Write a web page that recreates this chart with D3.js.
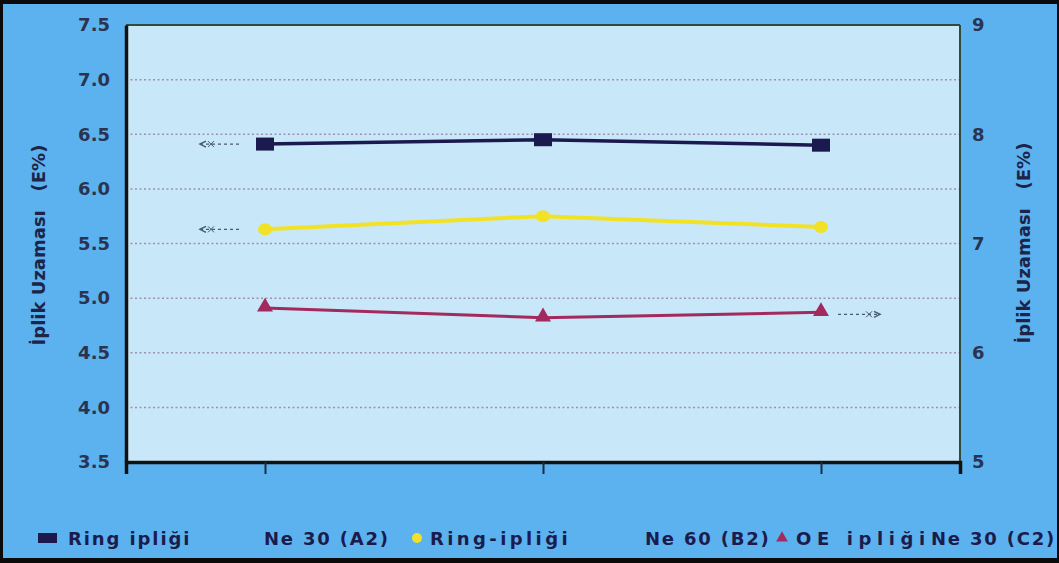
<!DOCTYPE html>
<html>
<head>
<meta charset="utf-8">
<script src="https://cdn.jsdelivr.net/npm/d3@7"></script>
<style>
  html, body { margin: 0; padding: 0; background: #000; }
  svg { display: block; }
  text { font-family: "DejaVu Sans", "Liberation Sans", Arial, sans-serif; font-weight: bold; }
</style>
</head>
<body>
<svg id="chart" width="1059" height="563"></svg>
<script>
// Measurement points along the x axis (unlabelled)
const categories = ["1", "2", "3"];

// Elongation values, E%
const ringNe30 = [6.41, 6.45, 6.40];   // left axis
const ringNe60 = [5.63, 5.75, 5.65];   // left axis
const oeNe30   = [6.41, 6.32, 6.37];   // right axis

// Axis tick labels
const leftTicks  = [3.5, 4.0, 4.5, 5.0, 5.5, 6.0, 6.5, 7.0, 7.5];
const rightTicks = [5, 6, 7, 8, 9];
const gridValues = [4.0, 4.5, 5.0, 5.5, 6.0, 6.5, 7.0];

const FONT = "'DejaVu Sans', 'Liberation Sans', Arial, sans-serif";
const svg = d3.select("#chart");
const W = 1059, H = 563;

// frame and page background
svg.append("rect").attr("x", 0).attr("y", 0).attr("width", W).attr("height", H).attr("fill", "#0a0a0a");
svg.append("rect").attr("x", 3).attr("y", 4).attr("width", W - 5).attr("height", H - 9).attr("fill", "#5cb2ef");

const plot = { left: 126, right: 960, top: 25, bottom: 462 };

const x = d3.scalePoint().domain(categories).range([plot.left, plot.right]).padding(0.5);
const yL = d3.scaleLinear().domain([3.5, 7.5]).range([plot.bottom, plot.top]);
const yR = d3.scaleLinear().domain([5, 9]).range([plot.bottom, plot.top]);

// plot area
svg.append("rect")
  .attr("x", plot.left).attr("y", plot.top)
  .attr("width", plot.right - plot.left).attr("height", plot.bottom - plot.top)
  .attr("fill", "#c8e7f8");

// dotted grid
svg.append("g").selectAll("line").data(gridValues).join("line")
  .attr("x1", plot.left).attr("x2", plot.right)
  .attr("y1", d => yL(d)).attr("y2", d => yL(d))
  .attr("stroke", "#a08fb2").attr("stroke-width", 1.5)
  .attr("stroke-dasharray", "2,2.5");

// plot border: thin top/right, heavy left/bottom
svg.append("line").attr("x1", plot.left).attr("x2", plot.right).attr("y1", plot.top).attr("y2", plot.top)
  .attr("stroke", "#2f4a3e").attr("stroke-width", 2);
svg.append("line").attr("x1", plot.right).attr("x2", plot.right).attr("y1", plot.top).attr("y2", plot.bottom)
  .attr("stroke", "#2f4a3e").attr("stroke-width", 2);

// left axis
const gL = svg.append("g").attr("transform", `translate(${plot.left},0)`)
  .call(d3.axisLeft(yL).tickValues(leftTicks).tickFormat(d3.format(".1f")).tickSize(0).tickPadding(16));
gL.select(".domain").attr("stroke", "#111").attr("stroke-width", 3.5);
gL.selectAll("text").attr("font-size", 18).attr("fill", "#2a3450")
  .attr("font-family", FONT).attr("font-weight", "bold");

// right axis
const gR = svg.append("g").attr("transform", `translate(${plot.right},0)`)
  .call(d3.axisRight(yR).tickValues(rightTicks).tickFormat(d3.format("d")).tickSize(0).tickPadding(12));
gR.select(".domain").remove();
gR.selectAll("text").attr("font-size", 18).attr("fill", "#2a3450")
  .attr("font-family", FONT).attr("font-weight", "bold");

// bottom axis
const gB = svg.append("g").attr("transform", `translate(0,${plot.bottom})`)
  .call(d3.axisBottom(x).tickSize(12).tickFormat(""));
gB.select(".domain").attr("stroke", "#111").attr("stroke-width", 3.5);
gB.selectAll(".tick line").attr("stroke", "#1d2a44").attr("stroke-width", 2);

// axis titles
svg.append("text")
  .attr("transform", "translate(45,245) rotate(-90)")
  .attr("text-anchor", "middle").attr("font-size", 18).attr("fill", "#1c2448")
  .text("İplik Uzaması\u00a0\u00a0\u00a0(E%)");
svg.append("text")
  .attr("transform", "translate(1030,243) rotate(-90)")
  .attr("text-anchor", "middle").attr("font-size", 18).attr("fill", "#1c2448")
  .text("İplik Uzaması\u00a0\u00a0\u00a0(E%)");

// series
const series = [
  { values: ringNe30, y: yL, color: "#1b1a4e", width: 3.5, marker: "square" },
  { values: ringNe60, y: yL, color: "#f2e226", width: 4, marker: "circle" },
  { values: oeNe30,   y: yR, color: "#a22a5e", width: 3, marker: "triangle" }
];

const line = (s) => d3.line().x((d, i) => x(categories[i])).y(d => s.y(d));

series.forEach(s => {
  svg.append("path").datum(s.values)
    .attr("d", line(s))
    .attr("fill", "none").attr("stroke", s.color).attr("stroke-width", s.width);
  const g = svg.append("g");
  s.values.forEach((v, i) => {
    const cx = x(categories[i]), cy = s.y(v);
    if (s.marker === "square") {
      g.append("rect").attr("x", cx - 9).attr("y", cy - 6.5).attr("width", 18).attr("height", 13).attr("fill", s.color);
    } else if (s.marker === "circle") {
      g.append("ellipse").attr("cx", cx).attr("cy", cy).attr("rx", 7).attr("ry", 6).attr("fill", s.color);
    } else {
      g.append("path").attr("d", d3.symbol(d3.symbolTriangle, 110)()).attr("transform", `translate(${cx},${cy - 1})`).attr("fill", s.color);
    }
  });
});

// small dashed pointers showing which axis each series uses
function pointer(x0, x1, yv, dir) {
  const g = svg.append("g").attr("stroke", "#4a5a70").attr("fill", "none");
  g.append("line").attr("x1", x0).attr("x2", x1).attr("y1", yv).attr("y2", yv)
    .attr("stroke-width", 1.2).attr("stroke-dasharray", "3,3");
  const tip = dir < 0 ? Math.min(x0, x1) : Math.max(x0, x1);
  g.append("path").attr("d", `M${tip - dir * 6},${yv - 3}L${tip},${yv}L${tip - dir * 6},${yv + 3}`)
    .attr("stroke-width", 1.5);
  const m = tip - dir * 11;
  g.append("path").attr("d", `M${m - 3},${yv - 3}L${m + 3},${yv + 3}M${m - 3},${yv + 3}L${m + 3},${yv - 3}`)
    .attr("stroke-width", 1);
}
pointer(200, 240, yL(ringNe30[0]), -1);
pointer(200, 240, yL(ringNe60[0]), -1);
pointer(838, 880, yR(oeNe30[2]) + 2, 1);

// legend
const legY = 545;
const legColor = "#1b1b4c";
const legText = (xp, txt, ls) => svg.append("text").attr("x", xp).attr("y", legY)
  .attr("font-size", 18).attr("fill", legColor).attr("letter-spacing", ls).text(txt);
svg.append("rect").attr("x", 38).attr("y", legY - 12).attr("width", 19).attr("height", 10).attr("fill", "#1b1a4e");
legText(68, "Ring ipliği", 1.9);
legText(264, "Ne 30 (A2)", 1.8);
svg.append("circle").attr("cx", 417).attr("cy", legY - 7).attr("r", 5).attr("fill", "#f2e226");
legText(430, "Ring-ipliği", 3.4);
legText(645, "Ne 60 (B2)", 1.8);
svg.append("path").attr("d", d3.symbol(d3.symbolTriangle, 60)()).attr("transform", `translate(${782},${legY - 7})`).attr("fill", "#a22a5e");
legText(796, "OE ipliği", 5.6);
legText(931, "Ne 30 (C2)", 1.8);
</script>
</body>
</html>
